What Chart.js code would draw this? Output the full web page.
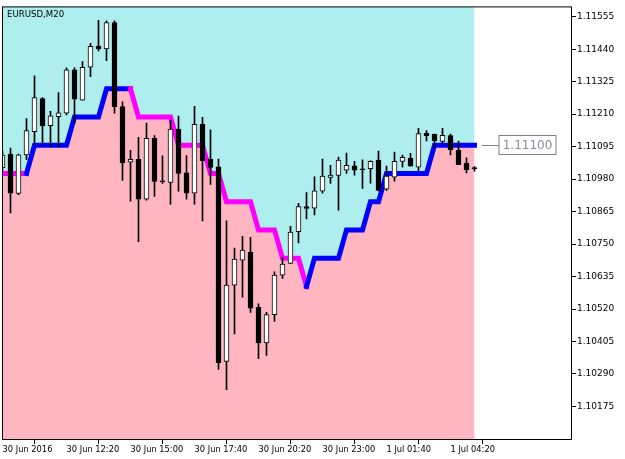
<!DOCTYPE html>
<html lang="en">
<head>
    <meta charset="UTF-8">
    <title>EURUSD,M20</title>
    <script src="https://cdn.jsdelivr.net/npm/chart.js@4.4.1/dist/chart.umd.min.js"></script>
    <style>
        body, html {
            margin: 0;
            padding: 0;
            background: #fff;
        }
        #wrap {
            width: 625px;
            height: 459px;
        }
    </style>
</head>
<body>
    <div id="wrap"><canvas id="myChart"></canvas></div>

    <script>
        // 20 minute bars, 30 Jun 2016 09:40 -> 1 Jul 05:20
        const openP  = [1.11020, 1.11069, 1.10929, 1.11066, 1.11148, 1.11265, 1.11169, 1.11201, 1.11213, 1.11367,
                        1.11259, 1.11376, 1.11451, 1.11441, 1.11534, 1.11237, 1.11040, 1.11050, 1.10909, 1.11124,
                        1.10974, 1.10968, 1.11157, 1.11002, 1.10930, 1.11174, 1.11051, 1.11023, 1.10334, 1.10604,
                        1.10693, 1.10722, 1.10526, 1.10400, 1.10500, 1.10640, 1.10681, 1.10794, 1.10883, 1.10877,
                        1.10937, 1.10986, 1.10993, 1.11012, 1.11027, 1.11016, 1.11017, 1.11047, 1.10944, 1.10987,
                        1.11043, 1.11054, 1.11022, 1.11142, 1.11139, 1.11113, 1.11134, 1.11083, 1.11037, 1.11017];
        const highP  = [1.11079, 1.11090, 1.11069, 1.11194, 1.11346, 1.11269, 1.11220, 1.11286, 1.11374, 1.11374,
                        1.11396, 1.11461, 1.11542, 1.11540, 1.11540, 1.11254, 1.11082, 1.11128, 1.11178, 1.11134,
                        1.11062, 1.11189, 1.11203, 1.11063, 1.11238, 1.11199, 1.11154, 1.11051, 1.10832, 1.10736,
                        1.10777, 1.10774, 1.10538, 1.10508, 1.10652, 1.10702, 1.10813, 1.10894, 1.10932, 1.10988,
                        1.11051, 1.11029, 1.11058, 1.11072, 1.11043, 1.11048, 1.11045, 1.11079, 1.11026, 1.11076,
                        1.11065, 1.11071, 1.11160, 1.11152, 1.11139, 1.11160, 1.11139, 1.11115, 1.11055, 1.11024];
        const lowP   = [1.11009, 1.10860, 1.10925, 1.11049, 1.11101, 1.11101, 1.11096, 1.11096, 1.11207, 1.11178,
                        1.11259, 1.11343, 1.11434, 1.11399, 1.11213, 1.10975, 1.10902, 1.10758, 1.10905, 1.10919,
                        1.10965, 1.10891, 1.10937, 1.10909, 1.10891, 1.10832, 1.10961, 1.10306, 1.10234, 1.10432,
                        1.10562, 1.10508, 1.10344, 1.10356, 1.10476, 1.10628, 1.10681, 1.10754, 1.10839, 1.10853,
                        1.10930, 1.10965, 1.10870, 1.11000, 1.10994, 1.10947, 1.10966, 1.10938, 1.10940, 1.10973,
                        1.11022, 1.11026, 1.11010, 1.11115, 1.11090, 1.11107, 1.11066, 1.11031, 1.11002, 1.11008];
        const closeP = [1.11065, 1.10930, 1.11066, 1.11152, 1.11269, 1.11168, 1.11204, 1.11215, 1.11367, 1.11263,
                        1.11376, 1.11450, 1.11441, 1.11534, 1.11236, 1.11037, 1.11050, 1.10909, 1.11124, 1.10972,
                        1.10970, 1.11157, 1.11000, 1.10930, 1.11174, 1.11045, 1.11021, 1.10329, 1.10605, 1.10697,
                        1.10729, 1.10523, 1.10400, 1.10500, 1.10640, 1.10679, 1.10792, 1.10883, 1.10876, 1.10938,
                        1.10991, 1.10994, 1.11047, 1.11029, 1.11012, 1.11013, 1.11043, 1.10940, 1.10991, 1.11043,
                        1.11057, 1.11026, 1.11141, 1.11134, 1.11115, 1.11135, 1.11084, 1.11031, 1.11013, 1.11017];

        // stepped level line and its direction per bar (1 = up / blue, -1 = down / magenta)
        const stopLevel = [1.1100, 1.1100, 1.1100, 1.1100, 1.1110, 1.1110, 1.1110, 1.1110, 1.1110, 1.1120,
                           1.1120, 1.1120, 1.1120, 1.1130, 1.1130, 1.1130, 1.1130, 1.1120, 1.1120, 1.1120,
                           1.1120, 1.1120, 1.1110, 1.1110, 1.1110, 1.1110, 1.1100, 1.1100, 1.1090, 1.1090,
                           1.1090, 1.1090, 1.1080, 1.1080, 1.1080, 1.1070, 1.1070, 1.1070, 1.1060, 1.1070,
                           1.1070, 1.1070, 1.1070, 1.1080, 1.1080, 1.1080, 1.1090, 1.1090, 1.1100, 1.1100,
                           1.1100, 1.1100, 1.1100, 1.1100, 1.1110, 1.1110, 1.1110, 1.1110, 1.1110, 1.1110];
        const trendDir  = [-1, -1, -1, -1, 1, 1, 1, 1, 1, 1,
                            1, 1, 1, 1, 1, 1, 1, -1, -1, -1,
                           -1, -1, -1, -1, -1, -1, -1, -1, -1, -1,
                           -1, -1, -1, -1, -1, -1, -1, -1, -1, 1,
                            1, 1, 1, 1, 1, 1, 1, 1, 1, 1,
                            1, 1, 1, 1, 1, 1, 1, 1, 1, 1];

        const xTickIdx = [0, 8, 16, 24, 32, 40, 48, 56];
        const xTickLabels = ['30 Jun 2016', '30 Jun 12:20', '30 Jun 15:00', '30 Jun 17:40',
                             '30 Jun 20:20', '30 Jun 23:00', '1 Jul 01:40', '1 Jul 04:20'];
        const yTicks = [1.11555, 1.11440, 1.11325, 1.11210, 1.11095, 1.10980, 1.10865,
                        1.10750, 1.10635, 1.10520, 1.10405, 1.10290, 1.10175];
        const symbolTitle = 'EURUSD,M20';

        const idx = openP.map((_, i) => i);
        const levelPts = idx.map(i => ({ x: i, y: stopLevel[i] }));

        // frame, symbol caption and the last-level tag
        const chartDecor = {
            id: 'chartDecor',
            beforeDraw(chart) {
                const ctx = chart.ctx;
                ctx.save();
                ctx.fillStyle = '#fff';
                ctx.fillRect(0, 0, chart.width, chart.height);
                ctx.restore();
            },
            afterDraw(chart) {
                const { ctx, chartArea: a, scales: { x, y } } = chart;
                ctx.save();
                ctx.strokeStyle = '#000';
                ctx.lineWidth = 1;
                ctx.strokeRect(a.left + 0.5, a.top + 0.5, a.right - a.left - 1, a.bottom - a.top - 1);

                ctx.fillStyle = '#000';
                ctx.font = '8.6px "DejaVu Sans"';
                ctx.textBaseline = 'alphabetic';
                ctx.fillText(symbolTitle, a.left + 5, a.top + 11);

                const last = stopLevel.length - 1;
                const py = Math.round(y.getPixelForValue(stopLevel[last])) + 0.5;
                const px = x.getPixelForValue(last);
                ctx.strokeStyle = '#808080';
                ctx.beginPath();
                ctx.moveTo(px + 7.5, py);
                ctx.lineTo(px + 24.5, py);
                ctx.stroke();
                ctx.strokeRect(px + 24.5, py - 10, 57, 19);
                ctx.fillStyle = '#8a8a9c';
                ctx.font = '12px "DejaVu Sans"';
                ctx.textAlign = 'center';
                ctx.textBaseline = 'middle';
                ctx.fillText(stopLevel[last].toFixed(5), px + 53, py + 0.5);
                ctx.restore();
            }
        };

        const ctx = document.getElementById('myChart').getContext('2d');
        const myChart = new Chart(ctx, {
            type: 'bar',
            data: {
                datasets: [{
                    // area above the level
                    type: 'line',
                    data: levelPts,
                    borderWidth: 0,
                    pointRadius: 0,
                    fill: 'end',
                    backgroundColor: '#afeeee',
                    order: 6
                }, {
                    // area below the level
                    type: 'line',
                    data: levelPts,
                    borderWidth: 0,
                    pointRadius: 0,
                    fill: 'start',
                    backgroundColor: '#ffb6c1',
                    order: 5
                }, {
                    type: 'line',
                    data: levelPts,
                    borderWidth: 5,
                    pointRadius: 0,
                    fill: false,
                    borderCapStyle: 'square',
                    borderJoinStyle: 'miter',
                    borderColor: '#0000ff',
                    segment: {
                        borderColor: c => trendDir[c.p1DataIndex] > 0 ? '#0000ff' : '#ff00ff'
                    },
                    order: 3
                }, {
                    // wicks
                    data: idx.map(i => ({ x: i, y: [lowP[i], highP[i]] })),
                    backgroundColor: '#000',
                    borderWidth: 0,
                    barThickness: 1,
                    grouped: false,
                    minBarLength: 1,
                    order: 2
                }, {
                    // bodies
                    data: idx.map(i => ({ x: i, y: [openP[i], closeP[i]] })),
                    backgroundColor: idx.map(i => closeP[i] > openP[i] ? '#fff' : '#000'),
                    borderColor: '#000',
                    borderWidth: 1,
                    borderSkipped: false,
                    barThickness: 5,
                    grouped: false,
                    minBarLength: 1,
                    order: 1
                }]
            },
            options: {
                responsive: true,
                maintainAspectRatio: false,
                animation: false,
                layout: { padding: { left: 2, top: 2, right: 0, bottom: 0 } },
                plugins: {
                    legend: { display: false },
                    tooltip: { enabled: false }
                },
                scales: {
                    x: {
                        type: 'linear',
                        position: 'bottom',
                        min: -0.0625,
                        max: 71.1875,
                        offset: false,
                        afterBuildTicks: scale => {
                            scale.ticks = xTickIdx.map(v => ({ value: v }));
                        },
                        afterFit: scale => { scale.height = 19; },
                        grid: {
                            drawOnChartArea: false,
                            drawTicks: true,
                            tickLength: 4,
                            color: '#000'
                        },
                        border: { display: false },
                        ticks: {
                            autoSkip: false,
                            maxRotation: 0,
                            align: 'start',
                            padding: 1,
                            color: '#000',
                            font: { family: 'DejaVu Sans', size: 8.3 },
                            callback: v => xTickLabels[xTickIdx.indexOf(v)]
                        }
                    },
                    y: {
                        type: 'linear',
                        position: 'right',
                        min: 1.100562,
                        max: 1.1159145,
                        afterBuildTicks: scale => {
                            scale.ticks = yTicks.map(v => ({ value: v }));
                        },
                        afterFit: scale => { scale.width = 53; },
                        grid: {
                            drawOnChartArea: false,
                            drawTicks: true,
                            tickLength: 4,
                            color: '#000'
                        },
                        border: { display: false },
                        ticks: {
                            padding: 1,
                            color: '#000',
                            font: { family: 'DejaVu Sans', size: 9 },
                            callback: v => v.toFixed(5)
                        }
                    }
                }
            },
            plugins: [chartDecor]
        });
    </script>
</body>
</html>
